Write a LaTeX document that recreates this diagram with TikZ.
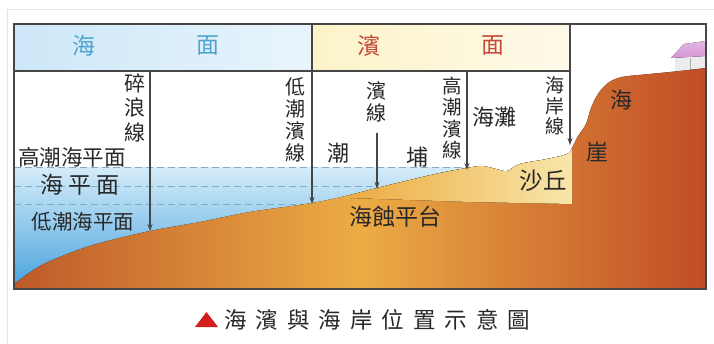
\documentclass[tikz,border=0pt]{standalone}
\usepackage{fontspec}
\setmainfont{Noto Sans CJK TC}
\usepackage{tikz}
\usetikzlibrary{arrows.meta,positioning}
\definecolor{cltext}{RGB}{40,40,40}
\definecolor{clframe}{RGB}{70,70,70}
\definecolor{clghost}{RGB}{228,228,228}
\definecolor{clseahd}{RGB}{205,231,248}
\definecolor{clshorehd}{RGB}{252,243,200}
\definecolor{clseatxt}{RGB}{78,165,208}
\definecolor{clshoretxt}{RGB}{200,72,58}
\definecolor{clwatert}{RGB}{212,236,249}
\definecolor{clwaterb}{RGB}{70,162,222}
\definecolor{cltide}{RGB}{130,172,200}
\definecolor{clrockl}{RGB}{190,90,42}
\definecolor{clrockm}{RGB}{236,172,68}
\definecolor{clrockr}{RGB}{192,76,38}
\definecolor{clsand}{RGB}{248,230,170}
\definecolor{clroof}{RGB}{214,150,214}
\definecolor{clcaption}{RGB}{210,30,28}
\tikzstyle{pointer} = [line width=1.2pt, clframe, -{Stealth[length=7pt,width=5pt]}]
\tikzstyle{vlabel} = [align=center, inner sep=0pt, text=cltext, font=\fontsize{20}{22}\selectfont]
\tikzstyle{tag} = [inner sep=0pt, text=cltext, font=\fontsize{22}{24}\selectfont]
\tikzstyle{headtag} = [inner sep=0pt, font=\fontsize{23}{24}\selectfont]
\tikzstyle{tidelevel} = [line width=1pt, cltide, dash pattern=on 7pt off 4pt]

\begin{document}
\begin{tikzpicture}[x=1pt, y=-1pt]
\useasboundingbox (0,0) rectangle (714,344);
\draw[clghost, line width=0.8pt] (7,344) -- (7,9) -- (714,9);

% Header bars
\fill[left color=clseahd, right color=clseahd!45!white] (14,24) rectangle (312,71);
\fill[left color=clshorehd, right color=clshorehd!40!white] (312,24) rectangle (570,71);
\node[headtag, text=clseatxt] (sea1) at (84,46) {海};
\node[headtag, text=clseatxt] (sea2) at (208,46) {面};
\node[headtag, text=clshoretxt] (shore1) at (369,46) {濱};
\node[headtag, text=clshoretxt] (shore2) at (493,46) {面};

\begin{scope}
\clip (14,24) rectangle (706,289);
% Water
\fill[top color=clwatert, bottom color=clwaterb] (14,168) rectangle (480,289);
\draw[tidelevel] (14,168) -- (467,168);
\draw[tidelevel] (14,187) -- (377,187);
\draw[tidelevel] (14,205) -- (312,205);

% House on the cliff
\fill[clframe!10] (675,56) rectangle (706,73);
\draw[clframe!45, line width=0.6pt] (690,58) -- (690,73);
\fill[top color=clroof!70!white, bottom color=clroof] (671,58) -- (684,44) -- (706,41) -- (706,56) -- cycle;

% Rock, tidal flat and cliff
\fill[left color=clrockl, right color=clrockr, middle color=clrockm]
  (14,289) -- plot[smooth, tension=0.55] coordinates {(14,284) (40,266) (70,253) (100,243)
  (150,231) (200,222) (250,212) (312,203) (350,195) (377,188) (410,180) (440,173) (467,168)
  (482,166) (496,169) (507,171) (520,164) (547,159) (567,154) (572,148) (578,136) (586,124)
  (591,108) (598,94) (608,83) (622,77) (650,74) (680,71) (706,68)} -- (706,289) -- cycle;

% Sand dune, paler towards the cliff
\fill[left color=clrockm, middle color=clsand!75!clrockm, right color=clsand]
  plot[smooth, tension=0.55] coordinates {(350,195) (377,188) (410,180) (440,173) (467,168)
  (482,166) (496,169) (507,171) (520,164) (547,159) (567,154) (572,148)}
  -- (572,204) -- (470,202) -- (350,198) -- cycle;
\end{scope}

% Frame
\draw[clframe, line width=1.2pt] (14,24) rectangle (706,289);
\draw[clframe, line width=1.2pt] (14,71) -- (570,71) (312,24) -- (312,71) (570,24) -- (570,71);

% Marker lines
\coordinate (breaktop) at (150,71);
\coordinate (breaktip) at (150,231);
\coordinate (lowtop) at (312,71);
\coordinate (lowtip) at (312,204);
\coordinate (meantop) at (377,133);
\coordinate (meantip) at (377,189);
\coordinate (hightop) at (467,71);
\coordinate (hightip) at (467,170);
\coordinate (coasttop) at (570,71);
\coordinate (coasttip) at (570,145);
\draw[pointer] (breaktop) -- (breaktip);
\draw[pointer] (lowtop) -- (lowtip);
\draw[pointer] (meantop) -- (meantip);
\draw[pointer] (hightop) -- (hightip);
\draw[pointer] (coasttop) -- (coasttip);

% Vertical labels
\node[vlabel, font=\fontsize{21}{24.5}\selectfont] (breaker) at (135,108) {碎\\浪\\線};
\node[vlabel] (lowline) at (295,120) {低\\潮\\濱\\線};
\node[vlabel] (shoreline) at (376,102) {濱\\線};
\node[vlabel, font=\fontsize{19.5}{21.5}\selectfont] (highline) at (452,118) {高\\潮\\濱\\線};
\node[vlabel, font=\fontsize{19}{20.5}\selectfont] (coastline) at (555,106) {海\\岸\\線};

% Sea levels
\node[tag, font=\fontsize{21.5}{24}\selectfont] (hightide) at (72,157) {高潮海平面};
\node[tag, font=\fontsize{23}{24}\selectfont\addfontfeature{LetterSpace=20}] (meansea) at (80,185) {海平面};
\node[tag, font=\fontsize{20.5}{24}\selectfont] (lowtide) at (83,222) {低潮海平面};

% Landforms
\node[tag] (flat1) at (338,153) {潮};
\node[tag] (flat2) at (417,157) {埔};
\node[tag] (beach) at (494,117) {海灘};
\node[tag, font=\fontsize{23.5}{24}\selectfont] (dune) at (543,181) {沙丘};
\node[tag] (cliff1) at (621,100) {海};
\node[tag] (cliff2) at (597,152) {崖};
\node[tag, font=\fontsize{23}{24}\selectfont] (platform) at (395,217) {海蝕平台};

% Caption
\fill[clcaption] (195,327) -- (218,327) -- (206.5,312) -- cycle;
\node[tag, anchor=west, font=\fontsize{22.5}{24}\selectfont\addfontfeature{LetterSpace=40}] (caption) at (224,320) {海濱與海岸位置示意圖};
\end{tikzpicture}
\end{document}
